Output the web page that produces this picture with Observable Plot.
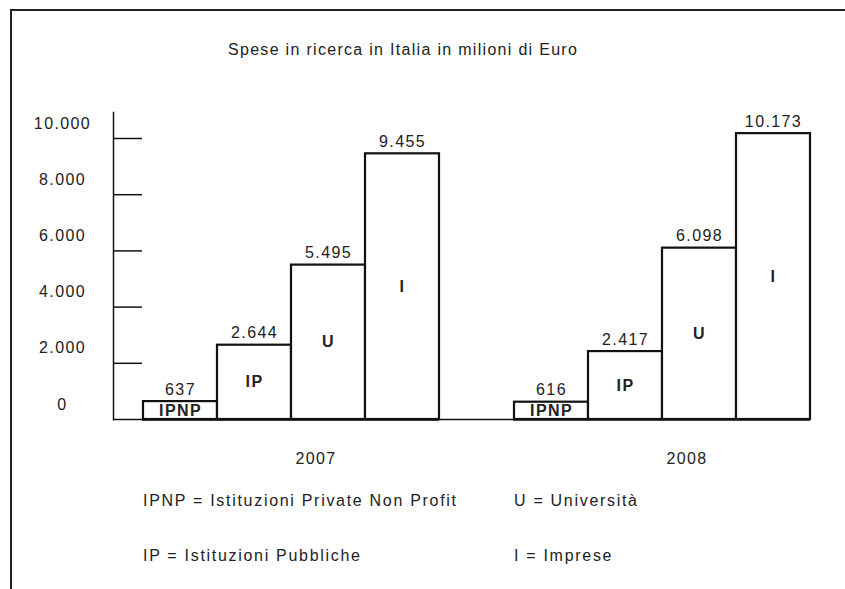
<!DOCTYPE html>
<html>
<head>
<meta charset="utf-8">
<script src="https://cdn.jsdelivr.net/npm/d3@7"></script>
<script src="https://cdn.jsdelivr.net/npm/@observablehq/plot@0.6"></script>
<style>
  html, body { margin: 0; padding: 0; background: #fff; }
  #page {
    position: relative; width: 845px; height: 589px; overflow: hidden;
    font-family: "Liberation Sans", Arial, sans-serif; color: #222;
  }
  #border {
    position: absolute; left: 10px; top: 9px; right: 0; bottom: 0;
    border-top: 2px solid #222; border-left: 2px solid #222; pointer-events: none;
  }
  #title {
    margin: 0; padding: 40px 0 0 228px; height: 20px; line-height: 20px;
    font-size: 16px; font-weight: normal; letter-spacing: 1.3px; white-space: nowrap;
  }
  #chart { margin-top: 35px; height: 385px; }
  #chart svg { display: block; }
  #legend {
    display: grid; grid-template-columns: 371px auto; row-gap: 35px;
    padding-left: 143px; margin-top: 11px;
    font-size: 16px; line-height: 20px; letter-spacing: 1.7px; white-space: nowrap;
  }
</style>
</head>
<body>
<div id="page">
  <div id="border"></div>
  <h1 id="title">Spese in ricerca in Italia in milioni di Euro</h1>
  <div id="chart"></div>
  <div id="legend"></div>
</div>
<script>
// Research spending in Italy (millions of euro) by sector
const years = ["2007", "2008"];
const categories = ["IPNP", "IP", "U", "I"];
const values2007 = [637, 2644, 5495, 9455];
const values2008 = [616, 2417, 6098, 10173];
const yTickValues = [0, 2000, 4000, 6000, 8000, 10000];
const legendCodes = ["IPNP", "U", "IP", "I"];
const legendNames = ["Istituzioni Private Non Profit", "Università", "Istituzioni Pubbliche", "Imprese"];

const valuesByYear = [values2007, values2008];
const data = years.flatMap((year, i) =>
  categories.map((cat, j) => ({year, cat, value: valuesByYear[i][j]}))
);

// Italian number format: "." as thousands separator
const fmt = d3.formatLocale({decimal: ",", thousands: ".", grouping: [3], currency: ["", " €"]}).format(",d");

const width = 845, height = 385;
const marginLeft = 142, marginRight = 35, marginTop = 43, marginBottom = 61;
const axisGap = 29;          // space between the y axis line and the first bar
const fxPadding = 0.2;       // gap between the two year groups
const fxStep = (width - marginLeft - marginRight) / (years.length - fxPadding);
const groupGap = fxStep * fxPadding;
const ink = "#111";

const chart = Plot.plot({
  width, height, marginLeft, marginRight, marginTop, marginBottom,
  style: {
    fontFamily: '"Liberation Sans", Arial, sans-serif',
    fontSize: "16px",
    letterSpacing: "1.4px",
    color: "#222",
    background: "white"
  },
  fx: {domain: years, paddingInner: fxPadding, paddingOuter: 0, label: null},
  x: {domain: categories, padding: 0, axis: null},
  y: {domain: [0, 10000], label: null},
  marks: [
    // vertical axis line, set back from the bars
    Plot.frame({anchor: "left", facetAnchor: "left", insetLeft: -axisGap, insetTop: -26, stroke: ink, strokeWidth: 1.5}),
    // tick marks running from the axis line toward the bars
    Plot.axisY(yTickValues.filter((v) => v > 0), {
      tickSize: -axisGap, dx: -axisGap, fill: "none", stroke: ink, strokeWidth: 1.5, label: null
    }),
    // tick labels, centred and raised above their ticks
    Plot.axisY(yTickValues, {
      tickSize: 0, tickPadding: 0, dx: -80, dy: -15, textAnchor: "middle",
      tickFormat: fmt, label: null
    }),
    Plot.axisFx({anchor: "bottom", tickSize: 0, tickPadding: 33, dx: 25, label: null}),
    Plot.barY(data, {fx: "year", x: "cat", y: "value", fill: "white", stroke: ink, strokeWidth: 2.2}),
    // baseline, continued under the gap and toward the axis
    Plot.ruleY([0], {facetAnchor: "left", insetLeft: -axisGap, insetRight: -groupGap, stroke: ink, strokeWidth: 1.5}),
    Plot.ruleY([0], {stroke: ink, strokeWidth: 2.5}),
    Plot.text(data, {fx: "year", x: "cat", y: (d) => d.value / 2, text: "cat", fontWeight: "bold"}),
    Plot.text(data, {fx: "year", x: "cat", y: "value", text: (d) => fmt(d.value), lineAnchor: "bottom", dy: -7})
  ]
});
document.getElementById("chart").append(chart);

const legend = document.getElementById("legend");
legendCodes.forEach((code, i) => {
  const item = document.createElement("div");
  item.textContent = `${code} = ${legendNames[i]}`;
  legend.append(item);
});
</script>
</body>
</html>
